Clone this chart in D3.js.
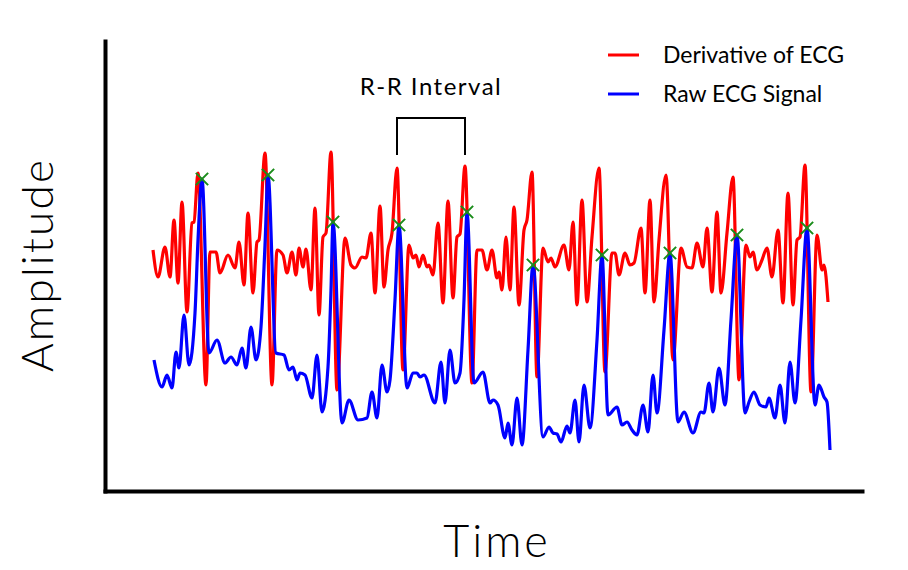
<!DOCTYPE html>
<html>
<head>
<meta charset="utf-8">
<style>
body { margin: 0; background: #fff; }
text { font-family: Lato, "Open Sans", sans-serif; fill: #000; }
</style>
</head>
<body>
<svg width="908" height="570"></svg>
<script src="https://d3js.org/d3.v7.min.js"></script>
<script>

// derivative of the ECG (red): time (samples), amplitude (arb. units)
var derivTime = [0,5,12,17,21,25,29,34,39,41,45,53,57,63,67,75,82,86,91,95,100,104,106,112,119,
  124,130,134,139,143,146,150,153,158,162,166,170,173,178,184,192,198,202,209,213,218,222,227,231,
  235,239,244,250,256,260,263,266,270,274,276,280,285,290,295,300,304,307,312,319,324,329,334,339,
  344,346,349,353,357,361,366,371,374,379,384,390,395,398,402,411,416,420,424,429,434,439,446,452,
  459,462,466,472,477,481,488,492,497,501,506,513,520,528,534,539,544,550,554,559,564,568,574,580,
  586,593,597,600,604,609,614,619,625,630,635,640,644,647,652,658,664,669,671,675];
var derivAmp = [241,214,244,214,271,208,289,179,268,269,318,106,239,239,218,236,223,249,206,278,198,249,251,338,106,
  241,236,218,239,216,243,224,242,201,283,176,254,258,339,101,253,226,223,234,233,258,198,285,204,
  241,258,323,121,246,233,236,224,236,224,226,216,268,188,290,193,254,257,325,108,241,241,221,241,
  213,219,201,254,201,284,186,261,271,319,114,243,229,233,224,246,221,269,186,291,189,254,323,119,
  238,238,216,238,226,228,263,198,291,189,251,316,131,243,224,223,248,224,263,199,279,198,258,314,
  111,246,234,239,221,231,243,214,261,188,298,186,251,254,326,99,256,221,226,189];

// raw ECG signal (blue)
var rawTime = [1,9,14,19,23,26,31,36,42,45,49,56,64,72,78,84,89,93,98,103,108,112,115,123,131,
  136,140,144,147,152,159,164,169,175,178,180,189,196,205,214,219,224,229,234,237,242,246,254,260,
  264,267,271,282,288,292,297,302,307,311,314,321,330,337,340,345,352,355,359,364,369,375,380,390,
  396,400,404,408,414,417,422,426,431,437,444,449,455,464,469,474,479,484,490,495,500,504,511,517,
  525,531,540,548,551,556,560,566,572,578,584,592,596,601,607,613,616,622,627,632,637,642,648,654,
  662,666,671,674,677];
var rawAmp = [131,104,116,103,139,123,176,126,178,251,312,138,151,128,134,126,143,123,164,131,164,246,316,138,136,
  121,124,111,118,116,93,136,79,124,201,269,68,91,71,73,99,73,126,99,111,191,266,103,118,
  118,114,116,88,129,88,141,108,118,191,279,108,119,88,91,86,53,68,46,93,46,141,226,54,
  64,58,57,49,65,58,91,49,106,63,151,236,76,84,66,69,61,56,86,59,116,78,161,238,
  69,79,58,79,78,108,79,123,86,171,256,78,89,99,86,84,93,73,106,68,129,88,171,263,
  86,106,94,89,41];

// detected R peaks (green markers)
var peakTime = [49,115,180,246,314,380,449,517,584,654];
var peakAmp = [312,316,269,266,279,226,236,238,256,263];

// the two derivative peaks used for the R-R annotation
var rrInterval = [244, 312];

var seriesNames = ["Derivative of ECG", "Raw ECG Signal"];
var seriesColors = ["#ff0000", "#0000ff"];

var svg = d3.select("svg");

var x = d3.scaleLinear().domain([-48, 709]).range([105, 862]);
var y = d3.scaleLinear().domain([0, 450]).range([491, 41]);

var deriv = derivTime.map(function(t, i) { return [t, derivAmp[i]]; });
var raw = rawTime.map(function(t, i) { return [t, rawAmp[i]]; });

var line = d3.line()
    .x(function(d) { return x(d[0]); })
    .y(function(d) { return y(d[1]); })
    .curve(d3.curveMonotoneX);

svg.append("path")
    .datum(deriv)
    .attr("fill", "none")
    .attr("stroke", seriesColors[0])
    .attr("stroke-width", 3.2)
    .attr("stroke-linejoin", "round")
    .attr("d", line);

svg.append("path")
    .datum(raw)
    .attr("fill", "none")
    .attr("stroke", seriesColors[1])
    .attr("stroke-width", 3.2)
    .attr("stroke-linejoin", "round")
    .attr("d", line);

svg.append("g")
  .selectAll("path")
  .data(peakTime)
  .enter().append("path")
    .attr("transform", function(d, i) { return "translate(" + x(d) + "," + y(peakAmp[i]) + ")"; })
    .attr("d", d3.symbol().type(d3.symbolX).size(100))
    .attr("fill", "none")
    .attr("stroke", "#1a8c1a")
    .attr("stroke-width", 2);

// axes: plain black lines, no ticks
svg.append("g")
    .attr("transform", "translate(" + x.range()[0] + ",0)")
    .call(d3.axisLeft(y).tickValues([]).tickSizeOuter(0))
    .select(".domain")
    .attr("stroke", "#000")
    .attr("stroke-width", 4)
    .attr("stroke-linecap", "square");

svg.append("g")
    .attr("transform", "translate(0," + y.range()[0] + ")")
    .call(d3.axisBottom(x).tickValues([]).tickSizeOuter(0))
    .select(".domain")
    .attr("stroke", "#000")
    .attr("stroke-width", 4)
    .attr("stroke-linecap", "square");

svg.append("text")
    .attr("transform", "translate(53,265) rotate(-90)")
    .attr("text-anchor", "middle")
    .attr("font-weight", 300)
    .style("font-size", "44px")
    .style("letter-spacing", "2.2px")
    .text("Amplitude");

svg.append("text")
    .attr("x", 497)
    .attr("y", 557)
    .attr("text-anchor", "middle")
    .attr("font-weight", 300)
    .style("font-size", "45px")
    .style("letter-spacing", "3px")
    .text("Time");

// R-R interval bracket
var bx0 = x(rrInterval[0]), bx1 = x(rrInterval[1]);
svg.append("path")
    .attr("d", "M" + bx0 + ",155V118H" + bx1 + "V155")
    .attr("fill", "none")
    .attr("stroke", "#000")
    .attr("stroke-width", 2);

svg.append("text")
    .attr("x", (bx0 + bx1) / 2)
    .attr("y", 95)
    .attr("text-anchor", "middle")
    .style("font-size", "24px")
    .style("letter-spacing", "1.5px")
    .text("R-R Interval");

// legend
var legend = svg.append("g")
  .selectAll("g")
  .data(seriesNames)
  .enter().append("g")
    .attr("transform", function(d, i) { return "translate(608," + (55 + i * 39) + ")"; });

legend.append("line")
    .attr("x1", 0)
    .attr("x2", 31)
    .attr("stroke", function(d, i) { return seriesColors[i]; })
    .attr("stroke-width", 3);

legend.append("text")
    .attr("x", 55)
    .attr("y", 8)
    .style("font-size", "23px")
    .text(function(d) { return d; });

</script>
</body>
</html>
